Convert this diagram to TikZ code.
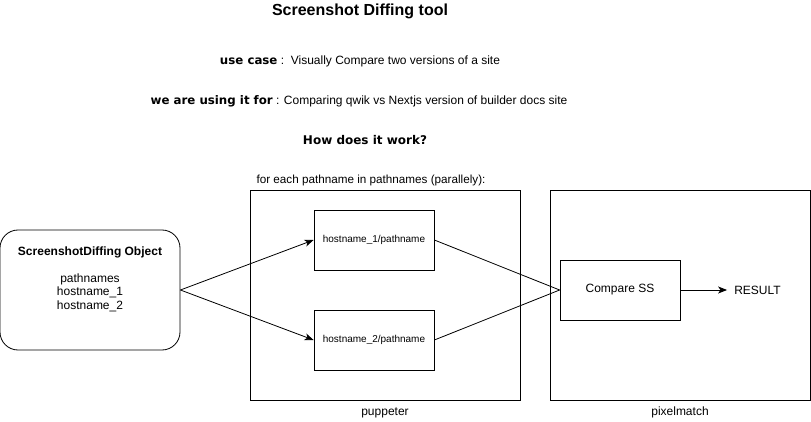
\documentclass[tikz,border=0pt]{standalone}
\usepackage{fontspec}
\setmainfont{Liberation Sans}
\newfontfamily\verd{DejaVu Sans}
\usetikzlibrary{arrows.meta}
\begin{document}
\begin{tikzpicture}[x=1pt,y=-1pt,
  box/.style={draw,line width=0.8pt,inner sep=0pt},
  lbl/.style={inner sep=0pt,font=\fontsize{12}{14}\selectfont},
  conn/.style={line width=0.8pt},
  arr/.style={conn,-{Stealth[length=9pt,width=7pt,inset=2.5pt]}},
  every node/.style={font=\fontsize{12}{14}\selectfont}]
\useasboundingbox (0,0) rectangle (811,422);
% titles
\node[lbl,font=\fontsize{16}{18}\selectfont\bfseries] (title) at (360,11) {Screenshot Diffing tool};
\node[lbl] (uc) at (360,61) {{\verd\bfseries\fontsize{11.8}{14}\selectfont use case} :\ \ Visually Compare two versions of a site};
\node[lbl] (wu) at (359,101) {{\verd\bfseries\fontsize{11.8}{14}\selectfont we are using it for} : Comparing qwik vs Nextjs version of builder docs site};
\node[lbl,font=\verd\bfseries\fontsize{12}{14}\selectfont] (how) at (365,140) {How does it work?};
% left object
\node[box,rounded corners=18pt,minimum width=180pt,minimum height=120pt] (obj) at (90,290) {};
\node[lbl,font=\fontsize{12}{14}\selectfont\bfseries] (objt) at (90,252.5) {ScreenshotDiffing Object};
\node[lbl,align=center,font=\fontsize{12}{13.5}\selectfont] (objb) at (90,292.5) {pathnames\\hostname\_1\\hostname\_2};
% puppeter
\node[box,minimum width=270pt,minimum height=210pt] (pup) at (385,295) {};
\node[lbl,anchor=south,font=\fontsize{11.7}{14}\selectfont] (foreach) at (371,186) {for each pathname in pathnames (parallely):};
\node[lbl] (pupl) at (385,412.5) {puppeter};
\node[box,minimum width=120pt,minimum height=60pt,font=\fontsize{10}{12}\selectfont] (h1) at (374,240) {hostname\_1/pathname};
\node[box,minimum width=120pt,minimum height=60pt,font=\fontsize{10}{12}\selectfont] (h2) at (374,340) {hostname\_2/pathname};
% pixelmatch
\node[box,minimum width=260pt,minimum height=210pt] (pix) at (680,295) {};
\node[lbl] (pixl) at (680,412.5) {pixelmatch};
\node[box,minimum width=120pt,minimum height=60pt] (cmp) at (620,290) {Compare SS};
\node[lbl,inner xsep=7pt] (res) at (757.5,290) {RESULT};
% connectors
\draw[arr] (obj.east) -- (h1.west);
\draw[arr] (obj.east) -- (h2.west);
\draw[conn] (h1.east) -- (cmp.west);
\draw[conn] (h2.east) -- (cmp.west);
\draw[arr] (cmp.east) -- (res.west);
\end{tikzpicture}
\end{document}
